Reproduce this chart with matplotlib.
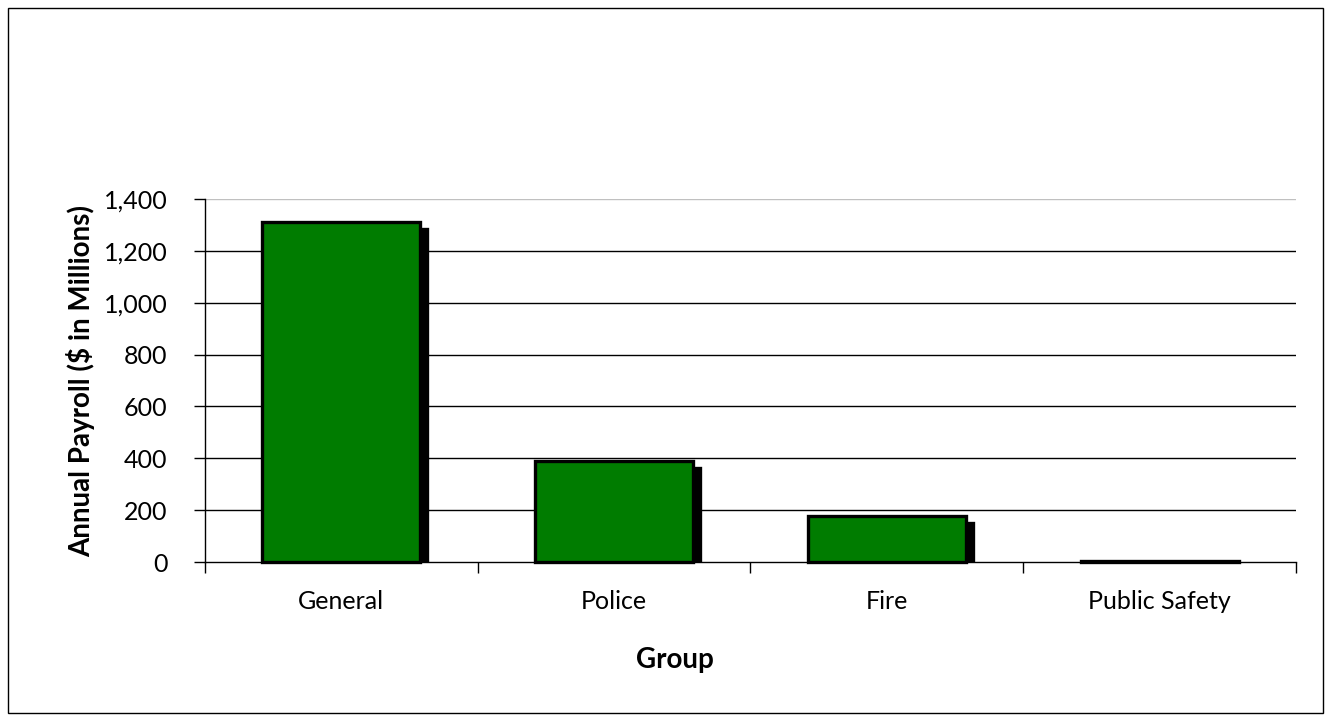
import matplotlib
matplotlib.use("Agg")
import matplotlib.pyplot as plt
import matplotlib.transforms as mtransforms
from matplotlib.patches import Rectangle
import numpy as np

groups = ["General", "Police", "Fire", "Public Safety"]
payroll = [1311, 390, 177, 4]
yticks = [0, 200, 400, 600, 800, 1000, 1200, 1400]

plt.rcParams['font.family'] = ['Lato', 'DejaVu Sans']

fig = plt.figure(figsize=(13.31, 7.21), dpi=100)
ax = fig.add_axes([0.154, 0.2205, 0.8197, 0.5035])

x = np.arange(len(groups))
# drop shadow, clipped at the baseline by the axes
shadow_tr = mtransforms.offset_copy(ax.transData, fig=fig, x=7, y=-7, units='dots')
ax.bar(x, payroll, width=0.58, color='black', edgecolor='black', linewidth=2.4,
       transform=shadow_tr, zorder=2)
ax.bar(x, payroll, width=0.58, color='#007c00', edgecolor='black', linewidth=2.4,
       zorder=3, clip_on=False)

ax.set_xlim(-0.5, len(groups) - 0.5)
ax.set_ylim(0, 1400)
ax.set_yticks(yticks)
ax.set_yticklabels([f"{v:,}" for v in yticks])
ax.set_xticks(x)
ax.set_xticklabels(groups)
ax.set_xticks(np.arange(len(groups) + 1) - 0.5, minor=True)
ax.tick_params(axis='x', which='major', length=0, pad=20, labelsize=18)
ax.tick_params(axis='x', which='minor', length=8, width=1, direction='out')
ax.tick_params(axis='y', length=8, width=1, direction='out', labelsize=18, pad=19)

for v in yticks[1:]:
    ax.axhline(v, color='#000000' if v < 1400 else '#c0c0c0', lw=1, zorder=1)

for s in ['top', 'right']:
    ax.spines[s].set_visible(False)
ax.spines['left'].set_linewidth(1)
ax.spines['bottom'].set_linewidth(1)

ax.set_ylabel("Annual Payroll ($ in Millions)", fontsize=20, fontweight='bold', labelpad=6)
ax.set_xlabel("Group", fontsize=20, fontweight='bold')
ax.xaxis.set_label_coords(0.431, -0.235)

fig.patches.append(Rectangle((8 / 1331, 8 / 721), 1315 / 1331, 705 / 721,
                             transform=fig.transFigure, fill=False,
                             edgecolor='black', linewidth=1))

fig.savefig("out.png", dpi=100)
